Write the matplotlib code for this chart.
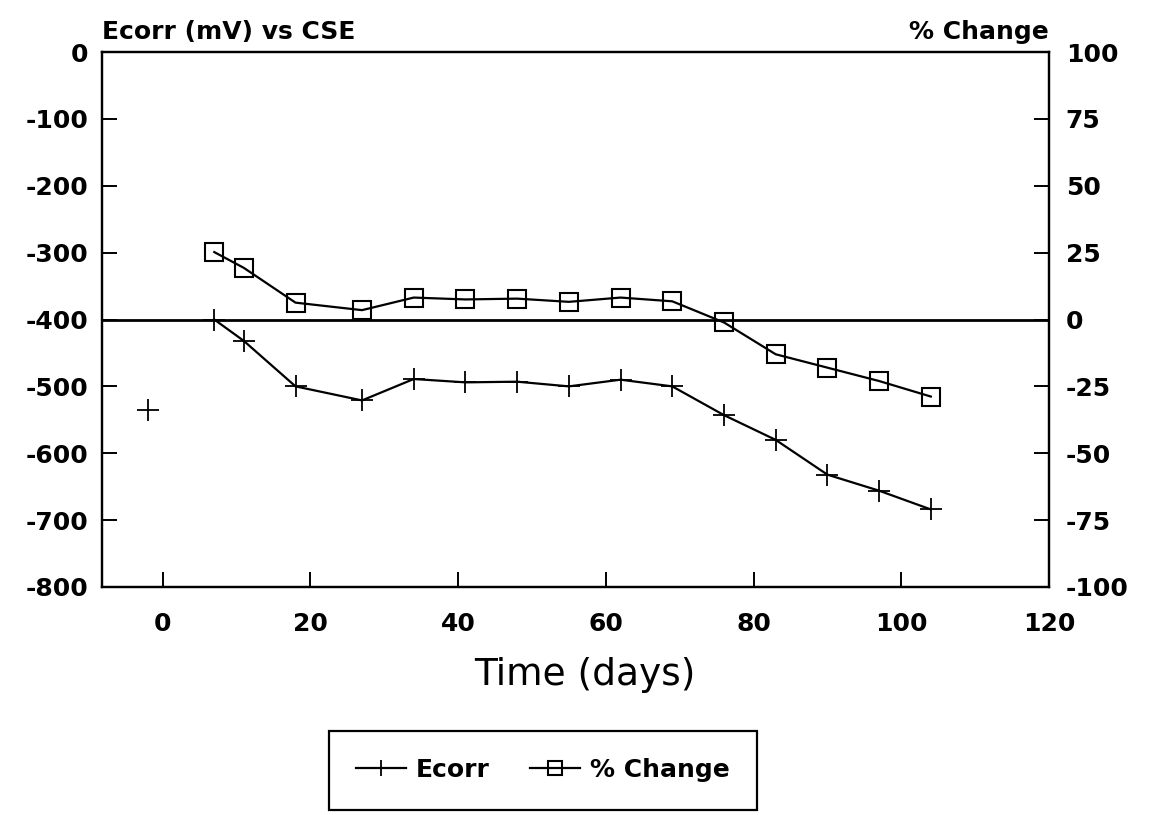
import matplotlib
matplotlib.use("Agg")
import matplotlib.pyplot as plt

plt.rcParams['axes.unicode_minus'] = False
plt.rcParams['font.family'] = ['DejaVu Sans']

# Data
init_day = [-2]
init_ecorr = [-535]
days = [7, 11, 18, 27, 34, 41, 48, 55, 62, 69, 76, 83, 90, 97, 104]
ecorr = [-400, -432, -500, -521, -489, -494, -493, -500, -490, -500, -543, -580, -632, -656, -684]
pct_change = [25.2, 19.3, 6.3, 3.5, 8.2, 7.5, 7.8, 6.6, 8.2, 6.8, -1.1, -13.0, -18.0, -23.0, -28.8]

x_ticks = [0, 20, 40, 60, 80, 100, 120]
left_ticks = [0, -100, -200, -300, -400, -500, -600, -700, -800]
right_ticks = [100, 75, 50, 25, 0, -25, -50, -75, -100]

fig = plt.figure(figsize=(11.6, 8.15), dpi=100)
ax = fig.add_axes([102/1160, 1 - 587/815, (1049-102)/1160, (587-52)/815])
ax2 = ax.twinx()

fs = 18
lw = 1.6

ax.axhline(-400, color='black', lw=2.0, zorder=1)
ax.plot(days, ecorr, color='black', lw=lw, marker='+', markersize=16, mew=1.3, label='Ecorr', zorder=3)
ax.plot(init_day, init_ecorr, color='black', lw=0, marker='+', markersize=16, mew=1.3, zorder=3)
ax2.plot(days, pct_change, color='black', lw=lw, marker='s', markersize=13, mew=1.5,
         markerfacecolor='none', label='% Change', zorder=3)

ax.set_xlim(-8.2, 120)
ax.set_ylim(-800, 0)
ax2.set_ylim(-100, 100)
ax.set_xticks(x_ticks)
ax.set_yticks(left_ticks)
ax2.set_yticks(right_ticks)

for a in (ax, ax2):
    for s in a.spines.values():
        s.set_linewidth(1.6)
ax.tick_params(axis='both', direction='in', length=11, width=1.4, labelsize=fs, pad=10)
ax.tick_params(axis='x', pad=18)
ax2.tick_params(axis='y', direction='in', length=11, width=1.4, labelsize=fs, pad=12)
for lab in ax.get_xticklabels() + ax.get_yticklabels() + ax2.get_yticklabels():
    lab.set_fontweight('bold')

ax.text(0.0, 1.015, 'Ecorr (mV) vs CSE', transform=ax.transAxes, ha='left', va='bottom',
        fontsize=fs, fontweight='bold')
ax.text(1.0, 1.015, '% Change', transform=ax.transAxes, ha='right', va='bottom',
        fontsize=fs, fontweight='bold')

fig.text(585/1160, 1 - 685/815, 'Time (days)', ha='center', va='baseline', fontsize=27)

h1, l1 = ax.get_legend_handles_labels()
h2, l2 = ax2.get_legend_handles_labels()
leg = fig.legend(h1 + h2, l1 + l2, loc='center', bbox_to_anchor=(543/1160, 1 - 770/815),
                 ncol=2, frameon=True, fancybox=False, fontsize=fs, handlelength=2.0,
                 columnspacing=1.6, borderpad=1.1, handletextpad=0.4, markerscale=0.75,
                 framealpha=1.0, borderaxespad=0)
leg.get_frame().set_edgecolor('black')
leg.get_frame().set_linewidth(1.6)
for t in leg.get_texts():
    t.set_fontweight('bold')

fig.savefig('out.png', dpi=100, facecolor='white')
